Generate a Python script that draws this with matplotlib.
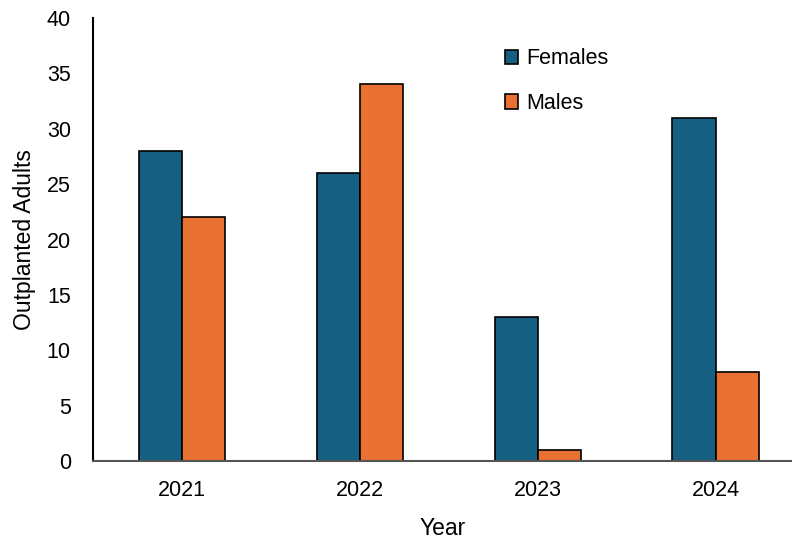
import numpy as np
import matplotlib.pyplot as plt

years = ['2021', '2022', '2023', '2024']
females = [28, 26, 13, 31]
males = [22, 34, 1, 8]

blue = '#156082'
orange = '#E97132'

plt.rcParams['font.family'] = ['Liberation Sans', 'DejaVu Sans']

fig = plt.figure(figsize=(7.92, 5.42), dpi=100)
ax = fig.add_axes([0.1174, 0.1494, 0.8826, 0.8174])

x = np.arange(len(years))
w = 0.242
ax.bar(x - w / 2, females, w, color=blue, edgecolor='black', linewidth=1.2, label='Females')
ax.bar(x + w / 2, males, w, color=orange, edgecolor='black', linewidth=1.2, label='Males')

ax.set_xlim(-0.5, 3.43)
ax.set_ylim(0, 40)
ax.set_yticks(range(0, 41, 5))
ax.set_xticks(x)
ax.set_xticklabels(years)
ax.tick_params(length=0, labelsize=15.5)
ax.tick_params(axis='x', pad=14)
ax.tick_params(axis='y', pad=16)

for s in ['top', 'right']:
    ax.spines[s].set_visible(False)
ax.spines['left'].set_linewidth(1.5)
ax.spines['bottom'].set_linewidth(1.5)
ax.spines['bottom'].set_color('#555555')

ax.set_xlabel('Year', fontsize=16.5, labelpad=11)
ax.set_ylabel('Outplanted Adults', fontsize=16.5, labelpad=8)

ax.legend(loc='upper left', bbox_to_anchor=(0.561, 0.975), frameon=False, fontsize=15.5,
          handlelength=0.65, handleheight=0.65, handletextpad=0.35, labelspacing=1.1)

fig.savefig('out.png', dpi=100)
